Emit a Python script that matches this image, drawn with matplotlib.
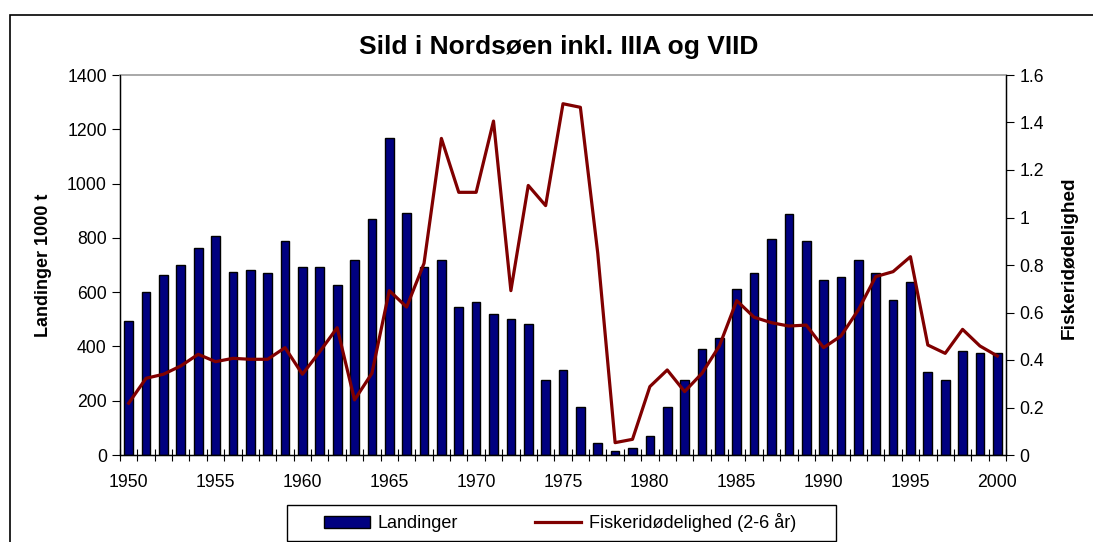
import matplotlib
matplotlib.use("Agg")
import matplotlib.pyplot as plt
import numpy as np
from matplotlib.patches import Rectangle
from matplotlib.lines import Line2D
from matplotlib.patches import Patch

plt.rcParams['font.family'] = ['Liberation Sans', 'DejaVu Sans']

# Data
years = list(range(1950, 2001))
landinger = [494, 602, 663, 700, 764, 807, 675, 682, 669, 788,
             694, 694, 625, 718, 868, 1168, 893, 694, 718, 544,
             564, 519, 502, 483, 276, 313, 176, 45, 15, 27,
             70, 176, 276, 389, 432, 613, 669, 795, 888, 788,
             645, 657, 718, 669, 571, 639, 307, 276, 383, 376,
             376]
fiskeri = [0.218, 0.323, 0.340, 0.375, 0.424, 0.393, 0.407, 0.403, 0.403, 0.452,
           0.340, 0.435, 0.536, 0.232, 0.344, 0.692, 0.623, 0.807, 1.333, 1.106,
           1.106, 1.406, 0.692, 1.135, 1.050, 1.479, 1.464, 0.850, 0.052, 0.066,
           0.288, 0.358, 0.267, 0.344, 0.459, 0.650, 0.580, 0.557, 0.543, 0.547,
           0.452, 0.501, 0.611, 0.751, 0.772, 0.835, 0.463, 0.428, 0.529, 0.459,
           0.417]
year_labels = [1950, 1955, 1960, 1965, 1970, 1975, 1980, 1985, 1990, 1995, 2000]

bar_color = '#000080'
line_color = '#800000'

W, H = 1093, 542
fig = plt.figure(figsize=(W / 100, H / 100), dpi=100)
ax = fig.add_axes([120 / W, 1 - 455 / H, (1006 - 120) / W, (455 - 75) / H])

x = np.arange(len(years))
ax.bar(x, landinger, width=0.5, color=bar_color, edgecolor='black', linewidth=1.0, zorder=2)
ax.set_xlim(-0.5, len(years) - 0.5)
ax.set_ylim(0, 1400)
ax.set_yticks(range(0, 1401, 200))
ax.set_xticks([years.index(y) for y in year_labels])
ax.set_xticklabels([str(y) for y in year_labels])
ax.set_xticks(np.arange(-0.5, len(years), 1), minor=True)
ax.tick_params(axis='x', which='major', length=0, labelsize=12.7, pad=14)
ax.tick_params(axis='x', which='minor', length=9, direction='inout', width=0.8)
ax.tick_params(axis='y', length=6, direction='out', labelsize=12.7, width=0.8)
ax.set_ylabel('Landinger 1000 t', fontsize=13, fontweight='bold')
ax.yaxis.set_label_coords(-68 / 886, 0.5)
for s in ['left', 'bottom', 'right']:
    ax.spines[s].set_color('black')
    ax.spines[s].set_linewidth(1)
ax.spines['top'].set_color('#999999')
ax.spines['top'].set_linewidth(1.2)

ax2 = ax.twinx()
ax2.plot(x, fiskeri, color=line_color, linewidth=2.3, zorder=3)
ax2.set_ylim(0, 1.6)
ax2.set_yticks(np.arange(0, 1.61, 0.2))
ax2.set_yticklabels(['0', '0.2', '0.4', '0.6', '0.8', '1', '1.2', '1.4', '1.6'])
ax2.tick_params(axis='y', length=6, direction='out', labelsize=12.7, width=0.8)
ax2.set_ylabel('Fiskeridødelighed', fontsize=13.7, fontweight='bold')
ax2.yaxis.set_label_coords(1 + 55 / 886, 0.52)
ax2.spines['top'].set_visible(False)
ax2.spines['right'].set_color('black')

fig.text(559 / W, 1 - 47 / H, 'Sild i Nordsøen inkl. IIIA og VIID',
         fontsize=19, fontweight='bold', ha='center', va='center')

# outer chart frame
fig.patches.append(Rectangle((10 / W, -0.2), 2, 1.2 - 15 / H, transform=fig.transFigure,
                             fill=False, edgecolor='black', linewidth=1.2))
# legend frame
fig.patches.append(Rectangle((287 / W, 1 - 541 / H), (836 - 287) / W, 36 / H,
                             transform=fig.transFigure, fill=False,
                             edgecolor='black', linewidth=1))
handles = [Patch(facecolor=bar_color, edgecolor='black', linewidth=1.0),
           Line2D([0], [0], color=line_color, linewidth=2.3)]
fig.legend(handles, ['Landinger', 'Fiskeridødelighed (2-6 år)'], ncol=2,
           loc='center', bbox_to_anchor=(560 / W, 1 - 523 / H), frameon=False,
           fontsize=13, handlelength=2.55, handleheight=0.6, handletextpad=0.4,
           columnspacing=4.3)

fig.savefig('out.png', dpi=100)
